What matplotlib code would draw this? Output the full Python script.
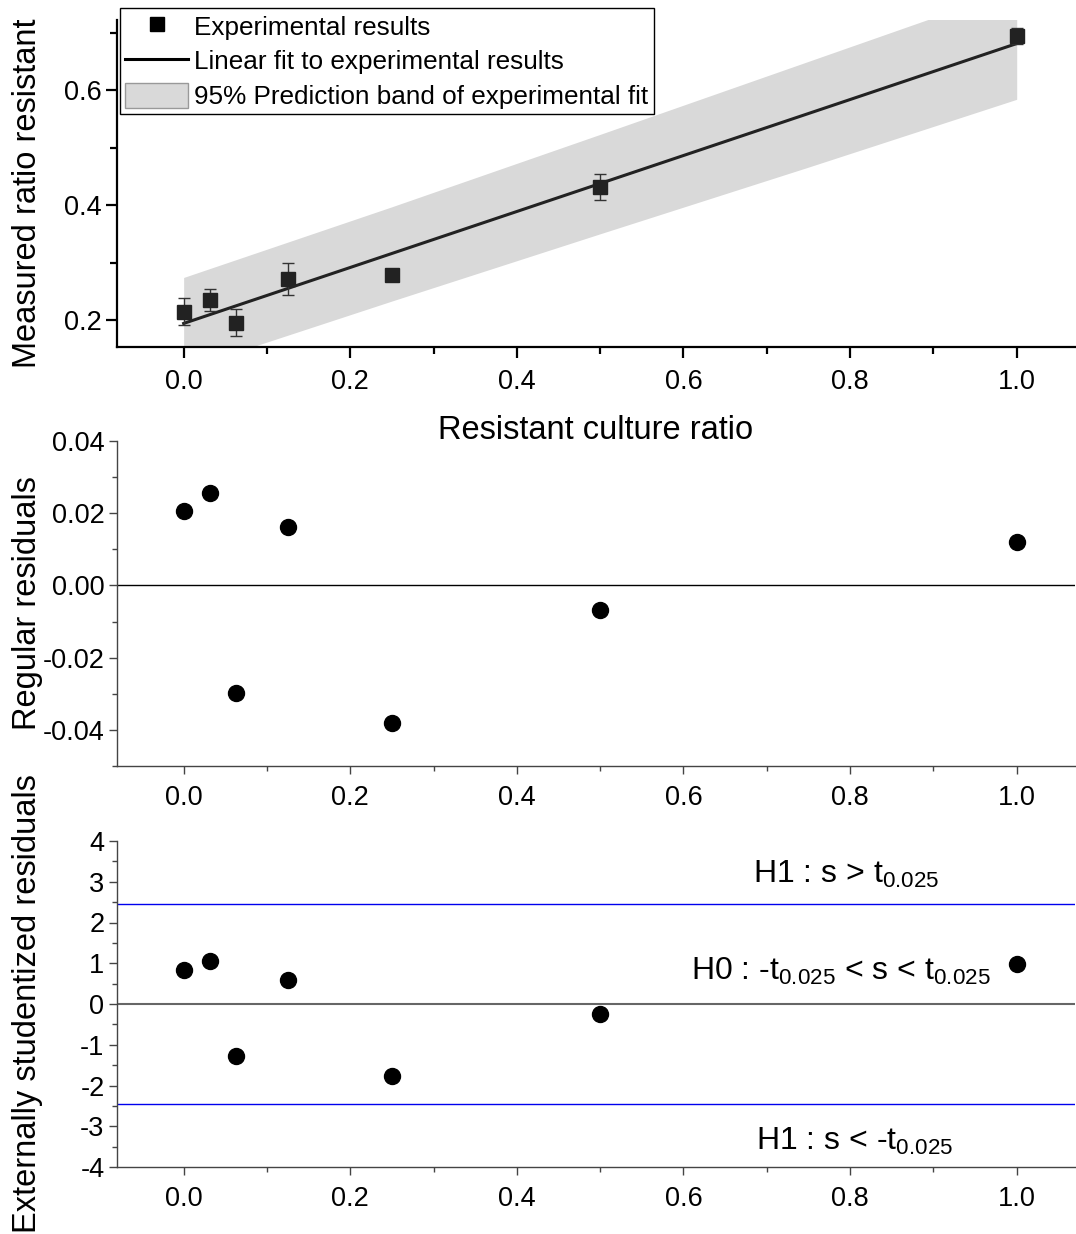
import matplotlib
matplotlib.use("Agg")
import matplotlib.pyplot as plt
from matplotlib.patches import Patch
from matplotlib.lines import Line2D
from matplotlib.ticker import MultipleLocator

plt.rcParams['font.family'] = ['Liberation Sans', 'DejaVu Sans']
plt.rcParams['mathtext.default'] = 'regular'

# ---- data ----
culture_ratio = [0.0, 0.03125, 0.0625, 0.125, 0.25, 0.5, 1.0]
measured_ratio = [0.2144, 0.2348, 0.1953, 0.2713, 0.2788, 0.431, 0.694]
measured_err = [0.023, 0.019, 0.023, 0.027, 0.003, 0.023, 0.014]

fit_x = [0.0, 1.0]
fit_y = [0.194, 0.681]

band_x = [0.0, 0.25, 0.5, 0.75, 1.0]
band_upper = [0.274, 0.397, 0.523, 0.650, 0.777]
band_lower = [0.114, 0.233, 0.350, 0.466, 0.584]

regular_residuals = [0.0207, 0.0255, -0.0298, 0.0163, -0.0381, -0.0069, 0.0119]
student_residuals = [0.834, 1.048, -1.267, 0.599, -1.757, -0.253, 0.974]
t_crit = 2.447

W, H = 1076, 1234
fig = plt.figure(figsize=(W / 100, H / 100), dpi=100)

def px_axes(left, top, right, bottom):
    return fig.add_axes([left / W, 1 - bottom / H, (right - left) / W, (bottom - top) / H])

ax1 = px_axes(117, 20, 1075, 347)
ax2 = px_axes(117, 441, 1075, 766)
ax3 = px_axes(117, 841, 1075, 1167)

dark = '#222222'
axcol = '#444444'
TICK = 19.5
LAB = 23.5

# ---- top panel ----
ax1.fill_between(band_x, band_lower, band_upper, color='#d9d9d9', lw=0, zorder=1)
ax1.plot(fit_x, fit_y, color=dark, lw=2.2, zorder=2)
ax1.errorbar(culture_ratio, measured_ratio, yerr=measured_err, fmt='none',
             ecolor='#333333', elinewidth=1, capsize=4, capthick=1, zorder=3)
ax1.plot(culture_ratio, measured_ratio, 's', color=dark, ms=10.5, zorder=4)
ax1.set_xlim(-0.08, 1.07)
ax1.set_ylim(0.153, 0.722)
ax1.yaxis.set_major_locator(MultipleLocator(0.2))
ax1.yaxis.set_minor_locator(MultipleLocator(0.1))
ax1.xaxis.set_major_locator(MultipleLocator(0.2))
ax1.xaxis.set_minor_locator(MultipleLocator(0.1))
for s in ['top', 'right']:
    ax1.spines[s].set_visible(False)
for s in ['left', 'bottom']:
    ax1.spines[s].set_linewidth(1.6)
    ax1.spines[s].set_color('black')
ax1.tick_params(which='major', length=8, width=1.6, labelsize=TICK)
ax1.tick_params(axis='x', pad=8)
ax1.tick_params(axis='y', pad=3)
ax1.tick_params(which='minor', length=5, width=1.6)
ax1.set_xlabel('Resistant culture ratio', fontsize=LAB, labelpad=14)
ax1.set_ylabel('Measured ratio resistant', fontsize=LAB)
ax1.yaxis.set_label_coords(-0.077, 0.47)

handles = [
    Line2D([], [], marker='s', color='black', ls='none', ms=10),
    Line2D([], [], color='black', lw=2.2),
    Patch(facecolor='#d9d9d9', edgecolor='#999999', lw=1),
]
labels = ['Experimental results', 'Linear fit to experimental results',
          '95% Prediction band of experimental fit']
leg = ax1.legend(handles, labels, loc='upper left', bbox_to_anchor=(120 / W, 1 - 8 / H),
                 bbox_transform=fig.transFigure, fontsize=18.8, frameon=True,
                 fancybox=False, borderaxespad=0, borderpad=0.2, labelspacing=0.32,
                 handlelength=2.4, handletextpad=0.25, handleheight=1.1)
leg.get_frame().set_edgecolor('black')
leg.get_frame().set_linewidth(1.0)
leg.get_frame().set_alpha(1)

# ---- middle panel ----
ax2.axhline(0, color='black', lw=1, zorder=1)
ax2.plot(culture_ratio, regular_residuals, 'o', color='black', ms=11.5, zorder=3)
ax2.set_xlim(-0.08, 1.07)
ax2.set_ylim(-0.05, 0.04)
ax2.yaxis.set_major_locator(MultipleLocator(0.02))
ax2.yaxis.set_minor_locator(MultipleLocator(0.01))
ax2.xaxis.set_major_locator(MultipleLocator(0.2))
ax2.xaxis.set_minor_locator(MultipleLocator(0.1))
ax2.yaxis.set_major_formatter(plt.FuncFormatter(lambda v, p: f'{v:.2f}'.replace('-0.00', '0.00')))
ax2.set_ylabel('Regular residuals', fontsize=LAB)
ax2.yaxis.set_label_coords(-0.077, 0.5)

# ---- bottom panel ----
ax3.axhline(0, color='#666666', lw=1.5, zorder=1)
ax3.axhline(t_crit, color='#0000ee', lw=1, zorder=1)
ax3.axhline(-t_crit, color='#0000ee', lw=1, zorder=1)
ax3.plot(culture_ratio, student_residuals, 'o', color='black', ms=11.5, zorder=3)
ax3.set_xlim(-0.08, 1.07)
ax3.set_ylim(-4, 4)
ax3.yaxis.set_major_locator(MultipleLocator(1))
ax3.yaxis.set_minor_locator(MultipleLocator(0.5))
ax3.xaxis.set_major_locator(MultipleLocator(0.2))
ax3.xaxis.set_minor_locator(MultipleLocator(0.1))
ax3.yaxis.set_major_formatter(plt.FuncFormatter(lambda v, p: f'{v:.0f}'))
ax3.set_ylabel('Externally studentized residuals', fontsize=LAB)
ax3.yaxis.set_label_coords(-0.077, 0.5)
ax3.text(0.684, 2.97, r'H1 : s > t$_{0.025}$', fontsize=23, va='baseline', ha='left')
ax3.text(0.609, 0.589, r'H0 : -t$_{0.025}$ < s < t$_{0.025}$', fontsize=23, va='baseline', ha='left')
ax3.text(0.687, -3.58, r'H1 : s < -t$_{0.025}$', fontsize=23, va='baseline', ha='left')

for ax in (ax2, ax3):
    for s in ['top', 'right']:
        ax.spines[s].set_visible(False)
    for s in ['left', 'bottom']:
        ax.spines[s].set_linewidth(1.0)
        ax.spines[s].set_color(axcol)
    ax.tick_params(which='major', length=6, width=1.0, color=axcol, labelsize=TICK)
    ax.tick_params(axis='x', pad=8)
    ax.tick_params(axis='y', pad=3)
    ax.tick_params(which='minor', length=3.5, width=1.0, color=axcol)

fig.savefig('out.png', dpi=100)
